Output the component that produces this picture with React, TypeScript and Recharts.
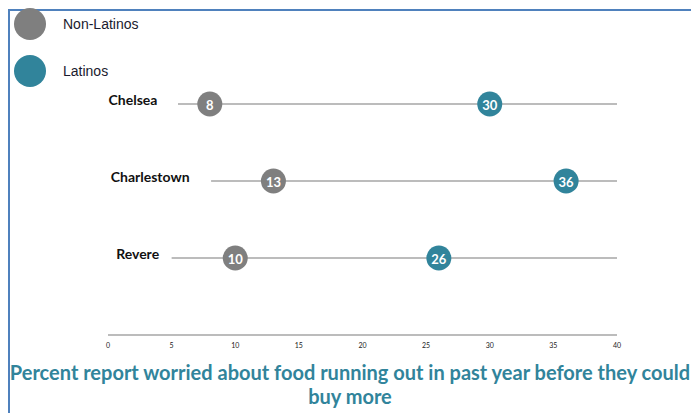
import React from 'react';
import { ScatterChart, Scatter, XAxis, YAxis, LabelList } from 'recharts';

const categories = ['Chelsea', 'Charlestown', 'Revere'];
const rowPositions = [3, 2, 1];
const lineStarts = [5.5, 8.1, 5.0];
const lineEnd = 40;
const nonLatinos = [8, 13, 10];
const latinos = [30, 36, 26];
const xTicks = [0, 5, 10, 15, 20, 25, 30, 35, 40];

const GRAY = '#7F7F7F';
const TEAL = '#31849B';
const LINE = '#A6A6A6';

// gap (px) between a row label and the start of its line
const labelGaps = [16, 17, 8];

const rowLines = categories.map((name, i) => [
  { x: lineStarts[i], y: rowPositions[i], name },
  { x: lineEnd, y: rowPositions[i], name: '' },
]);

const nonLatinoPts = categories.map((name, i) => ({ x: nonLatinos[i], y: rowPositions[i], name }));
const latinoPts = categories.map((name, i) => ({ x: latinos[i], y: rowPositions[i], name }));

const Dot = (color: string) => (props: any) => (
  <circle cx={props.cx} cy={props.cy} r={12.5} fill={color} />
);

const NoDot = () => <g />;

const makeRowLabel = (gap: number) => (props: any) => {
  const { x, y, value } = props;
  if (!value) return null;
  return (
    <text
      x={x - gap}
      y={y}
      textAnchor="end"
      dominantBaseline="central"
      fontFamily="Lato"
      fontWeight={700}
      fontSize={14}
      fill="#111"
    >
      {value}
    </text>
  );
};

const ValueLabel = (props: any) => {
  const { x, y, width, height, value } = props;
  return (
    <text
      x={x + (width || 0) / 2}
      y={y + (height || 0) / 2 + 1}
      textAnchor="middle"
      dominantBaseline="central"
      fontFamily="Lato"
      fontWeight={700}
      fontSize={13}
      fill="#fff"
    >
      {value}
    </text>
  );
};

const LegendItem: React.FC<{ color: string; label: string; top: number }> = ({ color, label, top }) => (
  <div style={{ position: 'absolute', left: 14, top, display: 'flex', alignItems: 'center' }}>
    <div style={{ width: 32, height: 32, borderRadius: 16, background: color }} />
    <span style={{ marginLeft: 17, fontFamily: 'Liberation Sans', fontSize: 14, color: '#1a1a2e' }}>{label}</span>
  </div>
);

export default function App() {
  return (
    <div style={{ position: 'absolute', left: 0, top: 0, width: 691, height: 413, overflow: 'hidden', background: '#fff' }}>
      <div
        style={{
          position: 'absolute', left: 8, top: 9, width: 700, height: 420,
          borderTop: '2px solid #4F81BD', borderLeft: '2px solid #4F81BD',
        }}
      />
      <LegendItem color={GRAY} label="Non-Latinos" top={8} />
      <LegendItem color={TEAL} label="Latinos" top={55} />
      <div style={{ position: 'absolute', left: 0, top: 0 }}>
        <ScatterChart width={691} height={360} margin={{ top: 27, right: 74, left: 108, bottom: 0 }}>
          <XAxis
            type="number"
            dataKey="x"
            domain={[0, 40]}
            ticks={xTicks}
            interval={0}
            height={25}
            tickLine={false}
            axisLine={{ stroke: LINE, strokeWidth: 1.5 }}
            tick={{ fontSize: 7, fill: '#222', fontFamily: 'Lato' }}
          />
          <YAxis type="number" dataKey="y" domain={[0, 4]} hide />
          {rowLines.map((pts, i) => (
            <Scatter
              key={categories[i]}
              data={pts}
              line={{ stroke: LINE, strokeWidth: 1.5 }}
              shape={NoDot}
              isAnimationActive={false}
            >
              <LabelList dataKey="name" content={makeRowLabel(labelGaps[i])} />
            </Scatter>
          ))}
          <Scatter data={nonLatinoPts} shape={Dot(GRAY)} isAnimationActive={false}>
            <LabelList dataKey="x" content={ValueLabel} />
          </Scatter>
          <Scatter data={latinoPts} shape={Dot(TEAL)} isAnimationActive={false}>
            <LabelList dataKey="x" content={ValueLabel} />
          </Scatter>
        </ScatterChart>
      </div>
      <div
        style={{
          position: 'absolute', left: 4, top: 360, width: 692, textAlign: 'center',
          fontFamily: 'Lato', fontWeight: 700, fontSize: 20, lineHeight: '24px', color: TEAL,
          whiteSpace: 'nowrap',
        }}
      >
        Percent report worried about food running out in past year before they could
        <br />
        buy more
      </div>
    </div>
  );
}
